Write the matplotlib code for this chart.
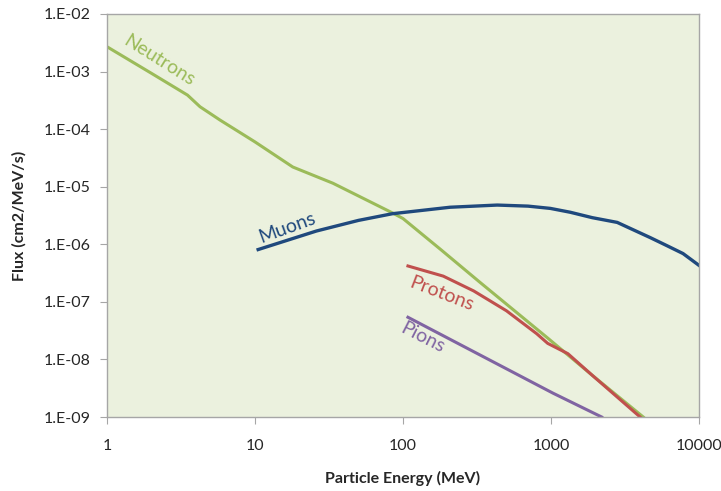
import matplotlib
matplotlib.use("Agg")
import matplotlib.pyplot as plt
from matplotlib.ticker import FixedLocator, FixedFormatter, NullLocator

plt.rcParams['font.family'] = ['Lato', 'DejaVu Sans']

# Flux spectra (cm2/MeV/s) versus particle energy (MeV)
neutron_e = [1, 2, 3.5, 4.25, 5.8, 10, 18, 33.6, 85, 100, 182, 330, 950, 1900, 4200]
neutron_f = [2.7e-3, 9.3e-4, 3.9e-4, 2.45e-4, 1.44e-4, 6.0e-5, 2.2e-5, 1.15e-5, 3.5e-6,
             2.8e-6, 7.9e-7, 2.2e-7, 2.35e-8, 5.3e-9, 1.0e-9]

muon_e = [10.5, 26, 50, 85, 208, 433, 700, 990, 1350, 1900, 2800, 4700, 6000, 7800, 10000]
muon_f = [8.1e-7, 1.7e-6, 2.6e-6, 3.4e-6, 4.4e-6, 4.8e-6, 4.6e-6, 4.2e-6, 3.6e-6,
          2.9e-6, 2.4e-6, 1.3e-6, 9.6e-7, 6.9e-7, 4.3e-7]

proton_e = [108, 187, 300, 500, 800, 950, 1300, 1900, 4000]
proton_f = [4.2e-7, 2.8e-7, 1.55e-7, 7.0e-8, 2.8e-8, 1.9e-8, 1.26e-8, 5.3e-9, 1.0e-9]

pion_e = [108, 1030, 2200]
pion_f = [5.4e-8, 2.6e-9, 1.0e-9]

x_ticks = [1, 10, 100, 1000, 10000]
x_labels = ["1", "10", "100", "1000", "10000"]
y_ticks = [1e-9, 1e-8, 1e-7, 1e-6, 1e-5, 1e-4, 1e-3, 1e-2]
y_labels = ["1.E-09", "1.E-08", "1.E-07", "1.E-06", "1.E-05", "1.E-04", "1.E-03", "1.E-02"]

c_neutron = "#9BBB59"
c_muon = "#1F497D"
c_proton = "#C0504D"
c_pion = "#8064A2"

fig = plt.figure(figsize=(7.21, 4.91), dpi=100)
ax = fig.add_axes([0.1484, 0.1507, 0.8211, 0.8208])
ax.set_facecolor("#EBF1DE")

ax.plot(neutron_e, neutron_f, color=c_neutron, lw=2.2, solid_joinstyle="round")
ax.plot(muon_e, muon_f, color=c_muon, lw=2.4, solid_joinstyle="round")
ax.plot(proton_e, proton_f, color=c_proton, lw=2.2, solid_joinstyle="round")
ax.plot(pion_e, pion_f, color=c_pion, lw=2.2, solid_joinstyle="round")

ax.set_xscale("log")
ax.set_yscale("log")
ax.set_xlim(1, 10000)
ax.set_ylim(1e-9, 1e-2)

ax.xaxis.set_major_locator(FixedLocator(x_ticks))
ax.xaxis.set_major_formatter(FixedFormatter(x_labels))
ax.xaxis.set_minor_locator(NullLocator())
ax.yaxis.set_major_locator(FixedLocator(y_ticks))
ax.yaxis.set_major_formatter(FixedFormatter(y_labels))
ax.yaxis.set_minor_locator(NullLocator())

for s in ax.spines.values():
    s.set_color("#A6A6A6")
    s.set_linewidth(1.0)
ax.tick_params(axis="both", which="major", direction="out", length=5,
               color="#A6A6A6", labelsize=11.5, labelcolor="#262626", pad=7)
ax.tick_params(axis="x", pad=11)

ax.set_xlabel("Particle Energy (MeV)", fontsize=11.5, fontweight="bold",
              color="#262626", labelpad=13)
ax.set_ylabel("Flux (cm2/MeV/s)", fontsize=11.5, fontweight="bold",
              color="#262626", labelpad=12)

ax.text(2.25, 1.55e-3, "Neutrons", color=c_neutron, fontsize=14, rotation=-32,
        ha="center", va="center", rotation_mode="anchor")
ax.text(16.4, 1.95e-6, "Muons", color=c_muon, fontsize=14, rotation=20,
        ha="center", va="center", rotation_mode="anchor")
ax.text(181, 1.4e-7, "Protons", color=c_proton, fontsize=14, rotation=-21,
        ha="center", va="center", rotation_mode="anchor")
ax.text(136, 2.4e-8, "Pions", color=c_pion, fontsize=14, rotation=-27,
        ha="center", va="center", rotation_mode="anchor")

fig.savefig("out.png", dpi=100)
